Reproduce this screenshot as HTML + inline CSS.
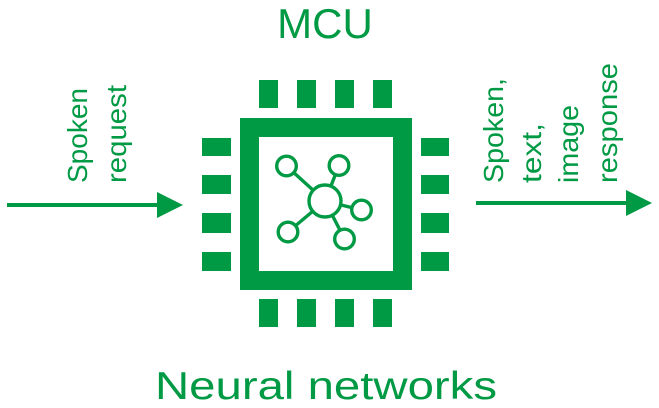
<!DOCTYPE html>
<html>
<head>
<meta charset="utf-8">
<style>
  html, body { margin: 0; padding: 0; background: #ffffff; }
  svg { display: block; }
  text { font-family: "Liberation Sans", sans-serif; fill: #009a44; }
</style>
</head>
<body>
<svg width="659" height="408" viewBox="0 0 659 408" xmlns="http://www.w3.org/2000/svg">
  <!-- Title -->
  <text x="325" y="38" font-size="42" text-anchor="middle">MCU</text>

  <!-- Chip pins top -->
  <g fill="#009a44">
    <rect x="259" y="80" width="19" height="28"/>
    <rect x="297" y="80" width="19" height="28"/>
    <rect x="335" y="80" width="19" height="28"/>
    <rect x="373" y="80" width="19" height="28"/>
    <!-- bottom -->
    <rect x="259" y="299" width="19" height="28"/>
    <rect x="297" y="299" width="19" height="28"/>
    <rect x="335" y="299" width="19" height="28"/>
    <rect x="373" y="299" width="19" height="28"/>
    <!-- left -->
    <rect x="202" y="138" width="29" height="18"/>
    <rect x="202" y="175" width="29" height="19"/>
    <rect x="202" y="213" width="29" height="20"/>
    <rect x="202" y="252" width="29" height="19"/>
    <!-- right -->
    <rect x="421" y="138" width="28" height="18"/>
    <rect x="421" y="175" width="28" height="19"/>
    <rect x="421" y="213" width="28" height="20"/>
    <rect x="421" y="252" width="28" height="19"/>
  </g>
  <!-- Chip body -->
  <path d="M240 118 H412 V290 H240 Z M259 137 V271 H393 V137 Z" fill="#009a44" fill-rule="evenodd"/>

  <!-- Network icon -->
  <g stroke="#009a44" stroke-width="3.4" fill="none">
    <line x1="325" y1="201" x2="286.5" y2="166"/>
    <line x1="325" y1="201" x2="339" y2="165.5"/>
    <line x1="325" y1="201" x2="361.5" y2="210"/>
    <line x1="325" y1="201" x2="288" y2="232"/>
    <line x1="325" y1="201" x2="344.5" y2="239"/>
  </g>
  <g stroke="#009a44" stroke-width="3.4" fill="#ffffff">
    <circle cx="325" cy="201" r="16"/>
    <circle cx="286.5" cy="166" r="9.8"/>
    <circle cx="339" cy="165.5" r="9.8"/>
    <circle cx="361.5" cy="210" r="9.8"/>
    <circle cx="288" cy="232" r="9.8"/>
    <circle cx="344.5" cy="239" r="9.8"/>
  </g>

  <!-- Left arrow -->
  <line x1="7" y1="205" x2="160" y2="205" stroke="#009a44" stroke-width="4"/>
  <polygon points="157,192 183,205 157,218" fill="#009a44"/>

  <!-- Right arrow -->
  <line x1="476" y1="203" x2="629" y2="203" stroke="#009a44" stroke-width="4"/>
  <polygon points="626,190 652,203 626,216" fill="#009a44"/>

  <!-- Left labels (rotated) -->
  <text font-size="28" transform="translate(87,183) rotate(-90)" textLength="95" lengthAdjust="spacingAndGlyphs">Spoken</text>
  <text font-size="28" transform="translate(126,183) rotate(-90)" textLength="98" lengthAdjust="spacingAndGlyphs">request</text>

  <!-- Right labels (rotated) -->
  <text font-size="28" transform="translate(503,183) rotate(-90)" textLength="105" lengthAdjust="spacingAndGlyphs">Spoken,</text>
  <text font-size="28" transform="translate(541,183) rotate(-90)" textLength="60" lengthAdjust="spacingAndGlyphs">text,</text>
  <text font-size="28" transform="translate(578,183) rotate(-90)" textLength="78" lengthAdjust="spacingAndGlyphs">image</text>
  <text font-size="28" transform="translate(617,183) rotate(-90)" textLength="120" lengthAdjust="spacingAndGlyphs">response</text>

  <!-- Bottom label -->
  <text x="155" y="399" font-size="39" textLength="342" lengthAdjust="spacingAndGlyphs">Neural networks</text>
</svg>
</body>
</html>
